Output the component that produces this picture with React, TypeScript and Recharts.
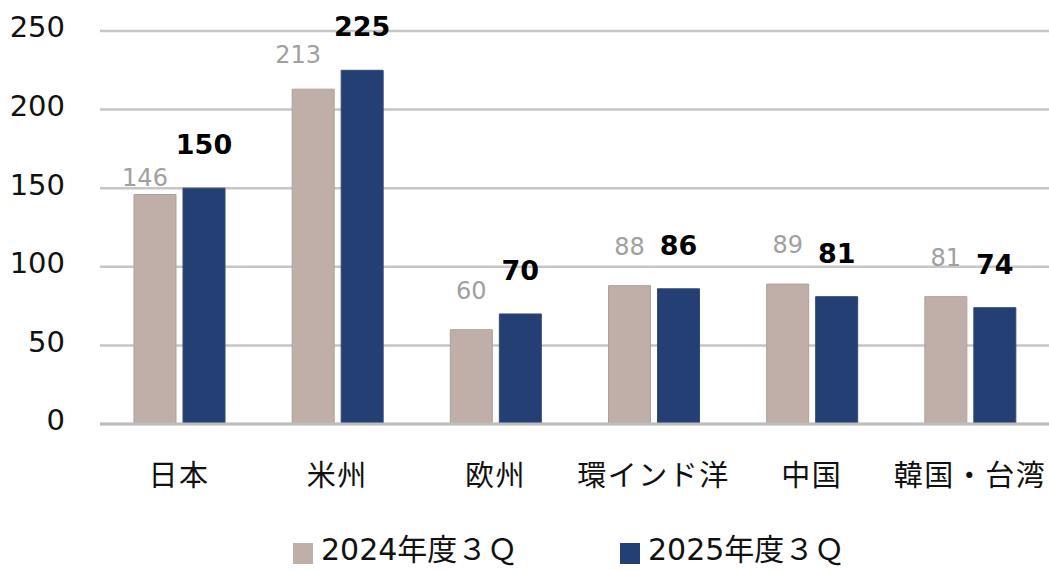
import { BarChart, Bar, XAxis, YAxis, CartesianGrid, Legend, LabelList } from "recharts";

const regions = ["日本", "米州", "欧州", "環インド洋", "中国", "韓国・台湾"];
const fy2024 = [146, 213, 60, 88, 89, 81];
const fy2025 = [150, 225, 70, 86, 81, 74];
const yTicks = [0, 50, 100, 150, 200, 250];
const seriesNames = ["2024年度３Ｑ", "2025年度３Ｑ"];

const COLOR_2024 = "#c0afa8";
const COLOR_2025 = "#243f73";
const NUM_FONT = "'DejaVu Sans', 'Noto Sans CJK JP', sans-serif";
const JP_FONT = "'Noto Sans CJK JP', sans-serif";

// hand nudges for labels that sit off the default spot
const nudge2024: Record<number, [number, number]> = { 0: [-10, 23], 1: [-15, 5] };
const nudge2025: Record<number, [number, number]> = {};

const data = regions.map((name, i) => ({ name, a: fy2024[i], b: fy2025[i] }));

function makeLabel(bold: boolean, nudge: Record<number, [number, number]>) {
  return (props: any) => {
    const { x, y, width, value, index } = props;
    const [dx, dy] = nudge[index] ?? [0, 0];
    return (
      <text
        x={x + width / 2 + dx}
        y={y - (bold ? 34 : 31) + dy}
        textAnchor="middle"
        fontFamily={NUM_FONT}
        fontSize={bold ? 27 : 24}
        fontWeight={bold ? 700 : 400}
        fill={bold ? "#000" : "#a0a0a0"}
      >
        {value}
      </text>
    );
  };
}

const YTick = ({ x, y, payload }: any) => (
  <text x={x} y={y - 4} dy="0.36em" textAnchor="end" fontFamily={NUM_FONT} fontSize={29} fill="#111">
    {payload.value}
  </text>
);

const XTick = ({ x, y, payload }: any) => (
  <text x={x} y={y + 54} textAnchor="middle" fontFamily={JP_FONT} fontSize={29} letterSpacing={1.5} fill="#111">
    {payload.value}
  </text>
);

const renderLegend = () => (
  <div style={{ display: "flex", justifyContent: "flex-start", paddingLeft: 293 }}>
    {seriesNames.map((n, i) => (
      <div key={n} style={{ display: "flex", alignItems: "center", width: 327 }}>
        <span
          style={{
            display: "inline-block",
            width: 20,
            height: 21,
            marginTop: 6,
            background: i === 0 ? COLOR_2024 : COLOR_2025,
          }}
        />
        <span style={{ fontFamily: NUM_FONT, fontSize: 30, color: "#111", marginLeft: 8, lineHeight: "36px" }}>
          {n}
        </span>
      </div>
    ))}
  </div>
);

export default function App() {
  return (
    <div style={{ position: "fixed", left: 0, top: 0, background: "#fff" }}>
      <BarChart
        width={1049}
        height={570}
        data={data}
        margin={{ top: 31, right: 0, bottom: 0, left: 0 }}
        barSize={42}
        barGap={7}
      >
        <CartesianGrid vertical={false} stroke="#c6c6c6" strokeWidth={2.5} />
        <XAxis
          dataKey="name"
          height={146}
          axisLine={{ stroke: "#bdbdbd", strokeWidth: 3 }}
          tickLine={false}
          tick={<XTick />}
          interval={0}
        />
        <YAxis
          width={100}
          domain={[0, 250]}
          ticks={yTicks}
          axisLine={false}
          tickLine={false}
          tickSize={0}
          tickMargin={35}
          tick={<YTick />}
        />
        <Legend
          layout="horizontal"
          verticalAlign="middle"
          align="center"
          content={renderLegend}
          wrapperStyle={{ position: "absolute", left: 0, top: 532, width: 1049 }}
        />
        <Bar dataKey="a" name={seriesNames[0]} fill={COLOR_2024} stroke="#ada09a" strokeWidth={1} isAnimationActive={false}>
          <LabelList dataKey="a" content={makeLabel(false, nudge2024)} />
        </Bar>
        <Bar dataKey="b" name={seriesNames[1]} fill={COLOR_2025} stroke="#34497a" strokeWidth={1} isAnimationActive={false}>
          <LabelList dataKey="b" content={makeLabel(true, nudge2025)} />
        </Bar>
      </BarChart>
    </div>
  );
}
